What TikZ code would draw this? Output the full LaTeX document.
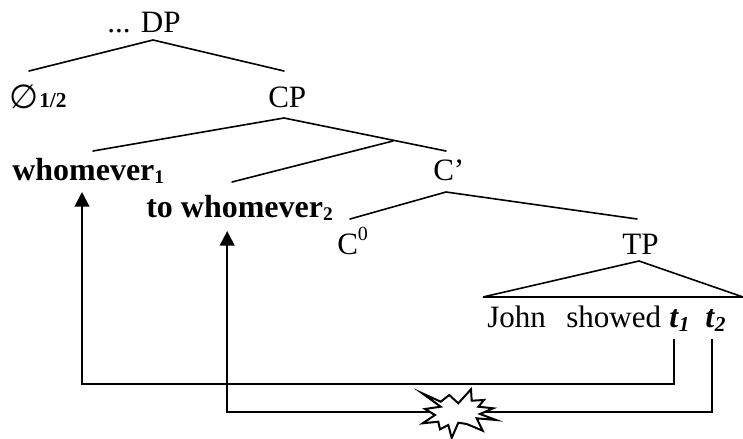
\documentclass[tikz,border=0pt]{standalone}
\usepackage{fontspec}
\setmainfont{Liberation Serif}
\newfontfamily\symfont{DejaVu Sans}
\usetikzlibrary{arrows.meta}
\tikzset{
  lbl/.style={inner sep=0pt,anchor=base west,font=\fontsize{23.3}{26}\selectfont},
  blbl/.style={inner sep=0pt,anchor=base west,font=\fontsize{24}{28}\selectfont\bfseries},
  tree/.style={line width=1.2pt,line cap=round,line join=miter,miter limit=3},
  mv/.style={line width=1.55pt,line join=miter,-{Triangle[length=11pt,width=11pt]}}
}
\newcommand{\subs}[1]{\raisebox{-2.5pt}{\fontsize{14.5}{16}\selectfont\bfseries #1}}
\newcommand{\subi}[1]{\raisebox{-3pt}{\fontsize{16}{17}\selectfont\bfseries\itshape #1}}
\begin{document}
\begin{tikzpicture}[x=0.75pt,y=-0.75pt]
\useasboundingbox (0,0) rectangle (743,439);
\fill[white] (0,0) rectangle (743,439);
% labels
\node[lbl] (dp) at (107,32) {... DP};
\node[lbl] (null) at (9,108) {\fontsize{25}{27}\selectfont\symfont ∅};
\node[blbl] (sub) at (39,107) {\fontsize{16}{17}\selectfont 1/2};
\node[lbl] (cp) at (268,107) {CP};
\node[blbl] (wh1) at (12,180) {whomever\subs{1}};
\node[lbl] (cbar) at (433,180) {C’};
\node[blbl] (wh2) at (146,217) {to whomever\subs{2}};
\node[lbl] (c0) at (337,254) {C\raisebox{10pt}{\fontsize{15}{16}\selectfont 0}};
\node[lbl] (tp) at (622,254) {TP};
\node[lbl] (john) at (487,327) {John};
\node[lbl] (showed) at (566,327) {showed};
\node[blbl] (t1) at (669,327) {\textit{t}\subi{1}};
\node[blbl] (t2) at (705,327) {\textit{t}\subi{2}};
% tree coordinates
\coordinate (dpa) at (153,40);
\coordinate (dpl) at (29,71);
\coordinate (dpr) at (284,71);
\coordinate (cpa) at (284,118);
\coordinate (cpl) at (93,151);
\coordinate (cpr) at (446,151);
\coordinate (cpj) at (393,141);
\coordinate (cpm) at (232,182);
\coordinate (ca) at (446,192);
\coordinate (cl) at (350,219);
\coordinate (cr) at (637,219);
\coordinate (tpa) at (639,261);
\coordinate (tpl) at (483,297);
\coordinate (tpr) at (743,297);
\draw[tree] (dpl) -- (dpa) -- (dpr);
\draw[tree] (cpl) -- (cpa) -- (cpr);
\draw[tree] (cpm) -- (cpj);
\draw[tree] (cl) -- (ca) -- (cr);
\draw[tree] (tpl) -- (tpa) -- (tpr) -- cycle;
% movement arrows
\coordinate (m1s) at (673.7,339);
\coordinate (m1c) at (673.7,384.3);
\coordinate (m1d) at (82,384.3);
\coordinate (m1e) at (82,192);
\coordinate (m2s) at (711.7,339);
\coordinate (m2c) at (711.7,411.7);
\coordinate (m2d) at (227.2,411.7);
\coordinate (m2e) at (227.2,231);
\draw[mv] (m1s) -- (m1c) -- (m1d) -- (m1e);
\draw[mv] (m2s) -- (m2c) -- (m2d) -- (m2e);
% crash star
\draw[line width=1.5pt,fill=white,miter limit=10]
 (422.3,393.3) -- (440.7,401.7) -- (449.3,395) -- (458.3,403.3) -- (471,389.3) -- (471.7,400.7)
 -- (484,400) -- (478.3,406.7) -- (493.3,408.3) -- (480,414) -- (496,420) -- (476.7,418.3)
 -- (482.7,430.7) -- (466.7,424) -- (458.3,422.7) -- (451.7,438) -- (448.3,425) -- (440,429.3)
 -- (438.3,421.7) -- (422.7,423.3) -- (435,415) -- (425,409) -- (440.7,406.7) -- cycle;
\end{tikzpicture}
\end{document}
